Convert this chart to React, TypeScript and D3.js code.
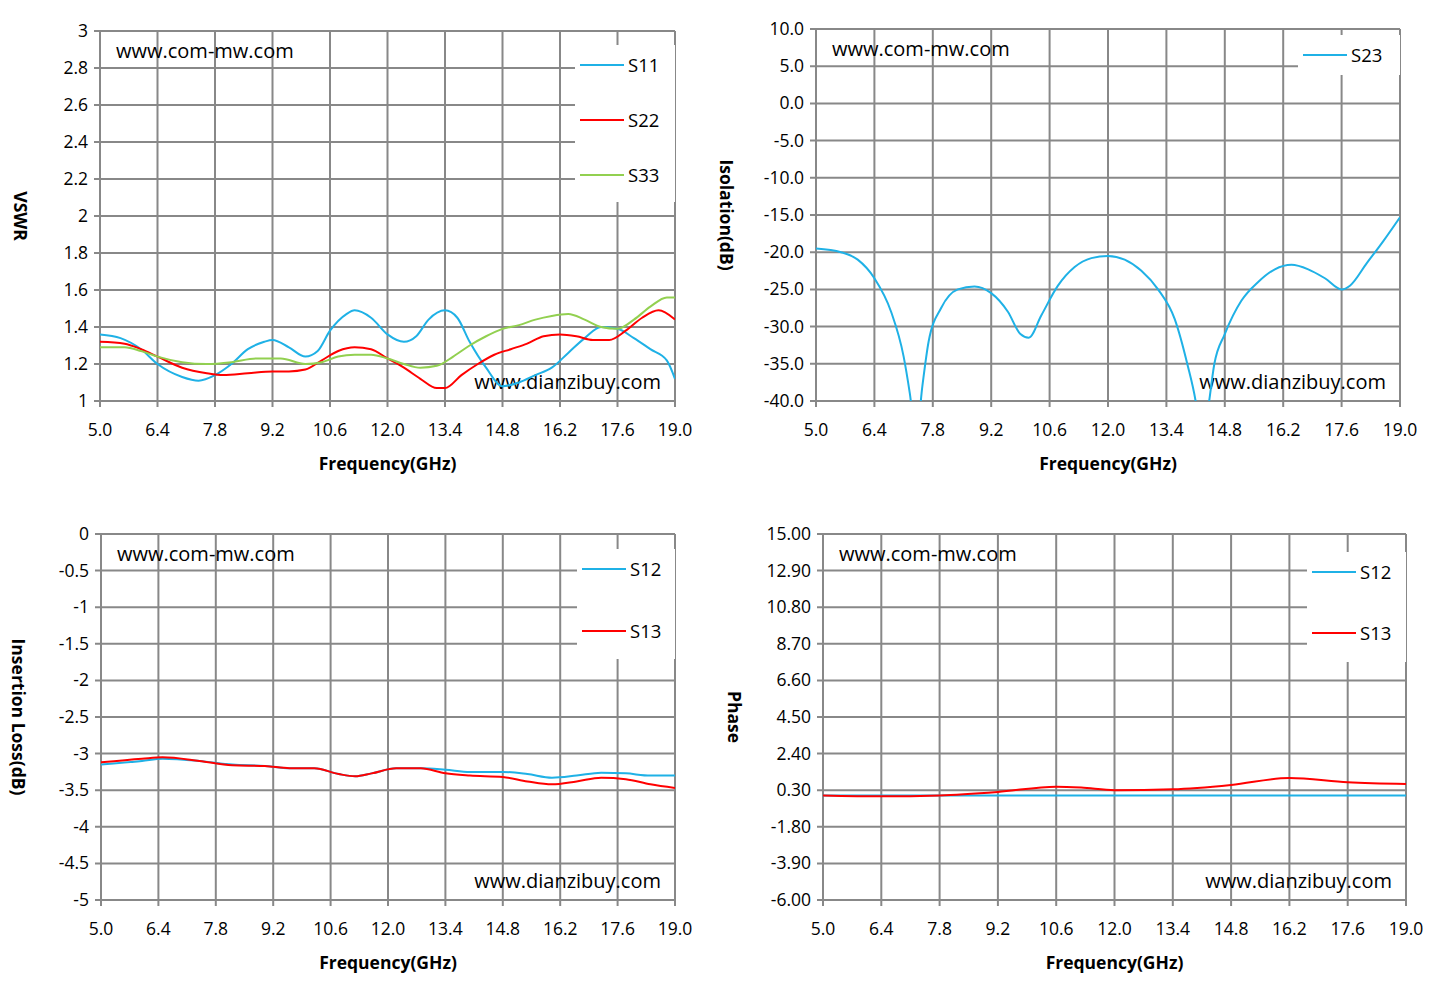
import * as d3 from "d3";

// ---- data ----
const vswrF11 = [5.0,5.5,6.0,6.4,7.0,7.4,7.8,8.2,8.6,9.0,9.2,9.6,10.0,10.3,10.6,11.0,11.2,11.6,12.0,12.4,12.7,13.0,13.4,13.7,14.0,14.4,14.8,15.2,15.6,16.0,16.4,16.8,17.2,17.6,18.0,18.4,18.8,19.0];
const vswrS11 = [1.36,1.34,1.28,1.2,1.13,1.11,1.14,1.2,1.28,1.32,1.33,1.29,1.24,1.27,1.38,1.47,1.49,1.45,1.36,1.32,1.35,1.44,1.49,1.45,1.32,1.18,1.08,1.1,1.14,1.18,1.26,1.34,1.4,1.39,1.34,1.28,1.22,1.12];
const vswrF22 = [5.0,5.6,6.0,6.4,7.0,7.6,8.0,8.6,9.2,9.6,10.0,10.4,10.8,11.2,11.6,12.0,12.4,12.8,13.2,13.4,13.8,14.2,14.6,15.0,15.4,15.8,16.2,16.6,17.0,17.4,17.8,18.2,18.6,19.0];
const vswrS22 = [1.32,1.31,1.28,1.24,1.18,1.15,1.14,1.15,1.16,1.16,1.17,1.22,1.27,1.29,1.28,1.23,1.18,1.12,1.07,1.07,1.14,1.2,1.25,1.28,1.31,1.35,1.36,1.35,1.33,1.33,1.38,1.45,1.49,1.44];
const vswrF33 = [5.0,5.6,6.0,6.4,7.0,7.6,8.2,8.8,9.4,10.0,10.4,10.8,11.2,11.6,12.0,12.4,12.8,13.2,13.6,14.0,14.4,14.8,15.2,15.6,16.0,16.4,16.8,17.2,17.6,18.0,18.4,18.8,19.0];
const vswrS33 = [1.29,1.29,1.27,1.24,1.21,1.2,1.21,1.23,1.23,1.2,1.21,1.24,1.25,1.25,1.23,1.2,1.18,1.19,1.24,1.3,1.35,1.39,1.41,1.44,1.46,1.47,1.44,1.4,1.39,1.44,1.51,1.56,1.56];

const isoF = [5.0,5.6,6.0,6.4,6.8,7.1,7.25,7.4,7.55,7.7,8.0,8.4,8.8,9.2,9.6,9.9,10.1,10.4,10.8,11.2,11.6,12.0,12.4,12.8,13.2,13.6,13.9,14.1,14.25,14.4,14.55,14.8,15.2,15.6,16.0,16.4,16.8,17.2,17.6,17.8,18.2,18.6,19.0];
const isoS23 = [-19.5,-20,-21,-23.5,-28,-34,-39,-45,-38,-32,-27.5,-25,-24.6,-25.5,-28,-31,-31.5,-28.5,-24.5,-22,-20.8,-20.5,-21,-22.5,-25,-29,-35,-40,-46,-41,-35,-31,-26.5,-24,-22.3,-21.7,-22.3,-23.5,-25,-24.5,-21.5,-18.5,-15.3];

const ilF = [5.0,6.0,6.5,7.4,8.2,9.0,9.6,10.2,10.8,11.2,11.6,12.2,12.8,13.4,14.0,14.8,15.4,16.0,16.6,17.2,17.8,18.4,19.0];
const ilS12 = [-3.15,-3.1,-3.07,-3.1,-3.15,-3.17,-3.2,-3.2,-3.28,-3.31,-3.27,-3.2,-3.2,-3.22,-3.25,-3.25,-3.28,-3.33,-3.3,-3.26,-3.27,-3.3,-3.3];
const ilS13 = [-3.12,-3.07,-3.05,-3.1,-3.16,-3.17,-3.2,-3.2,-3.28,-3.31,-3.27,-3.2,-3.2,-3.27,-3.3,-3.32,-3.38,-3.42,-3.38,-3.33,-3.35,-3.42,-3.47];

const phF = [5.0,6.4,7.8,9.2,10.6,11.2,12.0,13.4,14.8,16.2,17.6,19.0];
const phS12 = [0.0,0.0,0.0,0.0,0.0,0.0,0.0,0.0,0.0,0.0,0.0,0.0];
const phS13 = [0.0,-0.05,0.0,0.2,0.5,0.45,0.3,0.35,0.6,1.0,0.75,0.65];

const xTicks = [5.0,6.4,7.8,9.2,10.6,12.0,13.4,14.8,16.2,17.6,19.0];

const BLUE = "#1fb1e6", RED = "#ff0000", GREEN = "#92d050";
const FONT = "Open Sans, sans-serif";

type Series = { name: string; f: number[]; v: number[]; color: string };

function Panel(props: {
  x0: number; x1: number; y0: number; y1: number;
  yDomain: [number, number]; yTicks: number[]; yFmt: (v: number) => string;
  yLabel: string; yLabelX: number; series: Series[];
  legend: { x: number; y: number; w: number; h: number; gap: number };
  id: string;
}) {
  const { x0, x1, y0, y1, series, legend } = props;
  const xs = d3.scaleLinear().domain([5, 19]).range([x0, x1]);
  const ys = d3.scaleLinear().domain(props.yDomain).range([y1, y0]);
  const line = d3.line<number>().curve(d3.curveMonotoneX);
  return (
    <g fontFamily={FONT}>
      <defs>
        <clipPath id={props.id}><rect x={x0} y={y0} width={x1 - x0} height={y1 - y0} /></clipPath>
      </defs>
      {xTicks.map((t) => (
        <line key={"x" + t} x1={xs(t)} x2={xs(t)} y1={y0} y2={y1 + 6} stroke="#888" strokeWidth={2} />
      ))}
      {props.yTicks.map((t) => (
        <line key={"y" + t} x1={x0 - 6} x2={x1} y1={ys(t)} y2={ys(t)} stroke="#888" strokeWidth={2} />
      ))}
      {xTicks.map((t) => (
        <text key={"xt" + t} x={xs(t)} y={y1 + 35} fontSize={17.5} textAnchor="middle">{t.toFixed(1)}</text>
      ))}
      {props.yTicks.map((t) => (
        <text key={"yt" + t} x={x0 - 12} y={ys(t) + 6} fontSize={17.5} textAnchor="end">{props.yFmt(t)}</text>
      ))}
      <text x={(x0 + x1) / 2} y={y1 + 69} fontSize={17.5} fontWeight="bold" textAnchor="middle">Frequency(GHz)</text>
      <text transform={`translate(${props.yLabelX},${(y0 + y1) / 2}) rotate(90)`} fontSize={17.5} fontWeight="bold" textAnchor="middle">{props.yLabel}</text>
      <text x={x0 + 16} y={y0 + 27} fontSize={20}>www.com-mw.com</text>
      <text x={x1 - 14} y={y1 - 12} fontSize={20} textAnchor="end">www.dianzibuy.com</text>
      <rect x={legend.x} y={legend.y} width={legend.w} height={legend.h} fill="white" />
      <g clipPath={`url(#${props.id})`}>
        {series.map((s) => (
          <path key={s.name} d={line(s.f.map((f, i) => [xs(f), ys(s.v[i])]) as any) || ""} fill="none" stroke={s.color} strokeWidth={2} />
        ))}
      </g>
      {series.map((s, i) => {
        const yy = legend.y + 20 + i * legend.gap;
        return (
          <g key={"lg" + s.name}>
            <line x1={legend.x + 5} x2={legend.x + 49} y1={yy} y2={yy} stroke={s.color} strokeWidth={2} />
            <text x={legend.x + 53} y={yy + 7} fontSize={18.5}>{s.name}</text>
          </g>
        );
      })}
    </g>
  );
}

export default function App() {
  return (
    <svg width={1441} height={996} style={{ position: "absolute", left: 0, top: 0, display: "block", background: "white" }}>
      <Panel id="c1" x0={100} x1={675} y0={31} y1={401} yDomain={[1, 3]}
        yTicks={d3.range(0, 11).map((i) => 1 + i * 0.2)} yFmt={(v) => String(+v.toFixed(1))}
        yLabel="VSWR" yLabelX={14}
        legend={{ x: 575, y: 45, w: 100, h: 157, gap: 55 }}
        series={[
          { name: "S11", f: vswrF11, v: vswrS11, color: BLUE },
          { name: "S22", f: vswrF22, v: vswrS22, color: RED },
          { name: "S33", f: vswrF33, v: vswrS33, color: GREEN },
        ]} />
      <Panel id="c2" x0={816} x1={1400} y0={29} y1={401} yDomain={[-40, 10]}
        yTicks={d3.range(0, 11).map((i) => -40 + i * 5)} yFmt={(v) => v.toFixed(1)}
        yLabel="Isolation(dB)" yLabelX={720}
        legend={{ x: 1298, y: 35, w: 102, h: 40, gap: 0 }}
        series={[{ name: "S23", f: isoF, v: isoS23, color: BLUE }]} />
      <Panel id="c3" x0={101} x1={675} y0={534} y1={900} yDomain={[-5, 0]}
        yTicks={d3.range(0, 11).map((i) => -5 + i * 0.5)} yFmt={(v) => String(+v.toFixed(1))}
        yLabel="Insertion Loss(dB)" yLabelX={12}
        legend={{ x: 577, y: 549, w: 98, h: 110, gap: 62 }}
        series={[
          { name: "S12", f: ilF, v: ilS12, color: BLUE },
          { name: "S13", f: ilF, v: ilS13, color: RED },
        ]} />
      <Panel id="c4" x0={823} x1={1406} y0={534} y1={900} yDomain={[-6, 15]}
        yTicks={d3.range(0, 11).map((i) => -6 + i * 2.1)} yFmt={(v) => v.toFixed(2)}
        yLabel="Phase" yLabelX={728}
        legend={{ x: 1307, y: 552, w: 99, h: 110, gap: 61 }}
        series={[
          { name: "S12", f: phF, v: phS12, color: BLUE },
          { name: "S13", f: phF, v: phS13, color: RED },
        ]} />
    </svg>
  );
}
